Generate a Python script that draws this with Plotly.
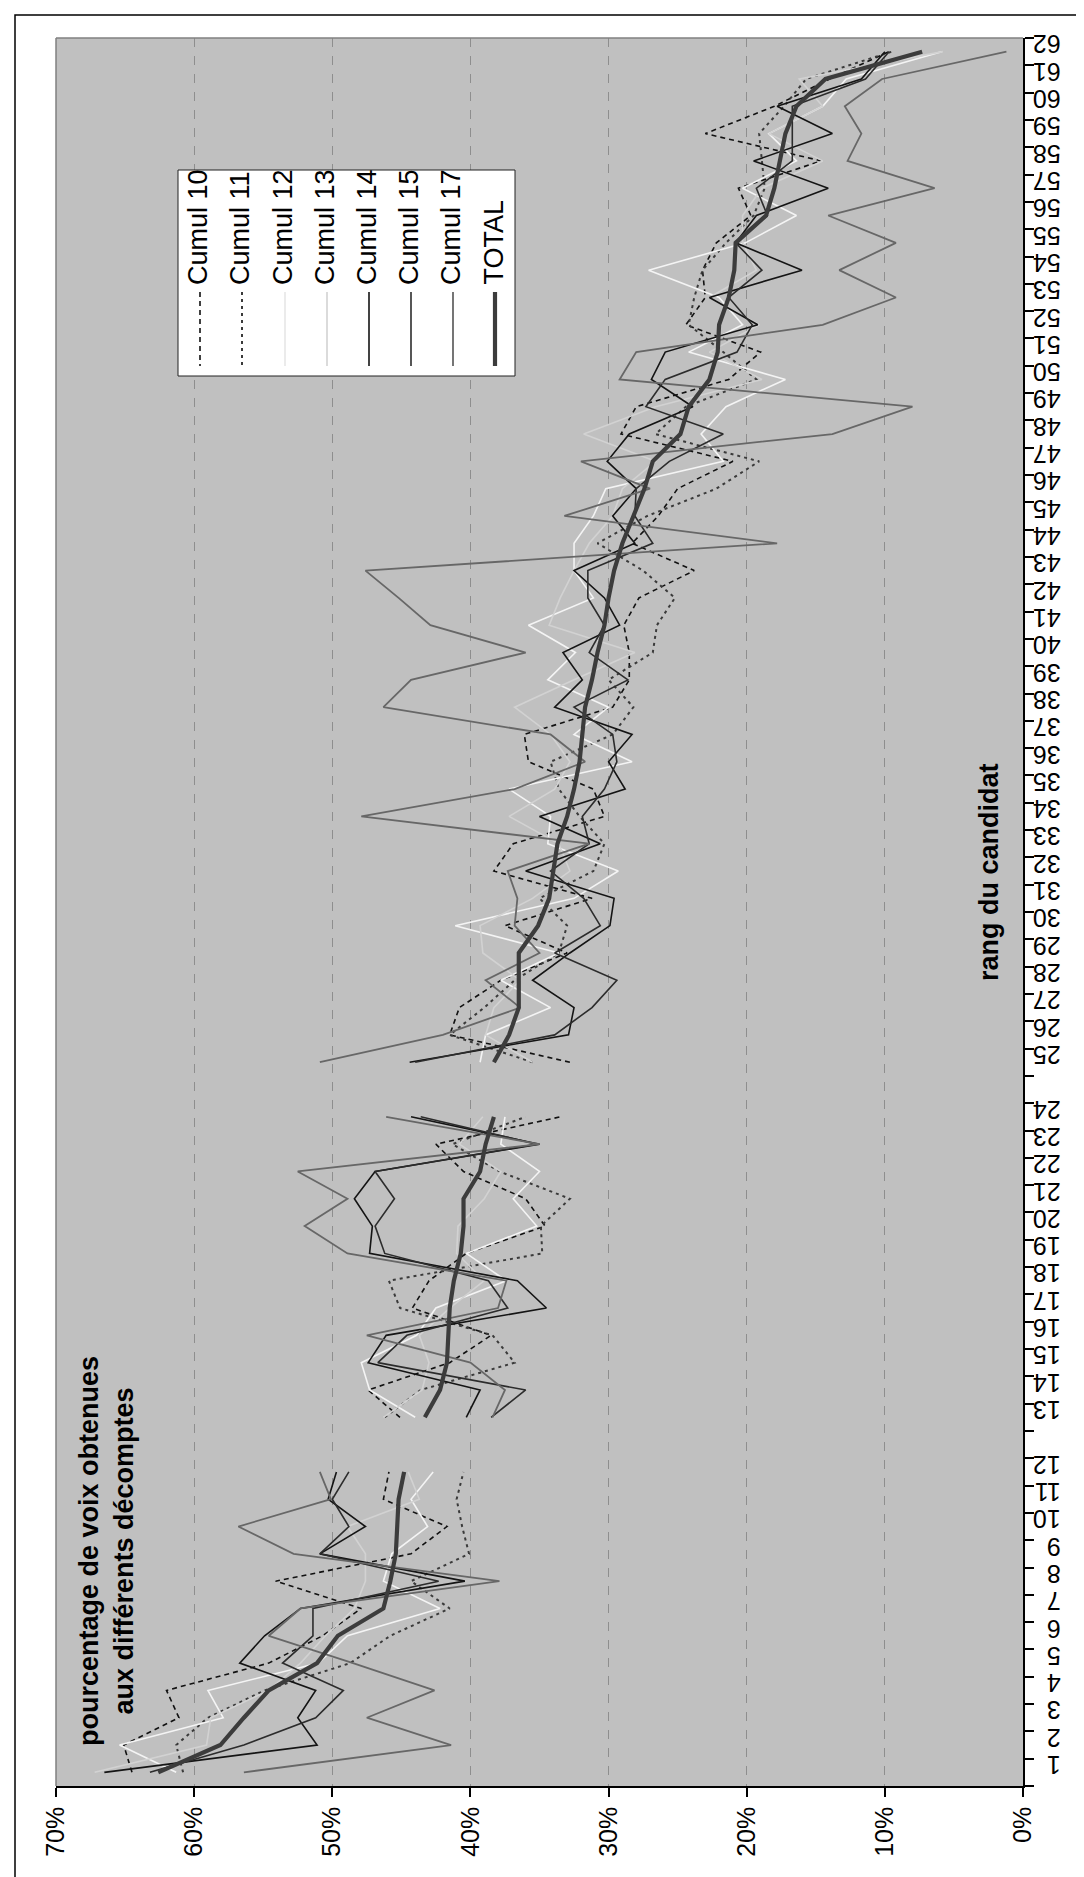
import plotly.graph_objects as go

# ---------------- data (percent of votes by candidate rank) ----------------
ranks = list(range(1, 63))
gap_after = [12, 24]  # blank category slots after these ranks

cumul10 = [64.5, 65.1, 61.1, 62.0, 54.6, 50.7, 47.9, 54.1, 44.3, 41.7, 46.3, 45.9,
           45.1, 47.4, 41.5, 38.5, 44.2, 43.0, 40.3, 34.6, 36.0, 40.5, 42.5, 33.5,
           32.8, 41.5, 40.8, 37.8, 33.0, 37.5, 31.2, 38.3, 36.9, 30.3, 31.1, 35.8, 36.1, 29.7,
           28.5, 28.5, 28.9, 27.8, 23.8, 28.3, 26.4, 25.0, 21.0, 29.1, 28.0, 21.3, 19.0, 24.4,
           23.0, 23.2, 22.2, 19.7, 20.6, 14.6, 23.0, 18.0, 14.0, 9.7]
cumul11 = [60.8, 61.3, 59.0, 54.9, 48.7, 45.8, 41.5, 44.3, 40.1, 40.6, 41.0, 40.5,
           46.2, 43.6, 36.8, 38.4, 45.1, 45.9, 34.8, 34.9, 32.8, 37.9, 41.3, 36.0,
           35.5, 41.5, 39.0, 36.8, 33.6, 33.0, 35.0, 31.1, 30.3, 32.1, 33.6, 34.2, 29.7, 28.2,
           30.0, 26.8, 26.5, 25.2, 27.5, 30.8, 27.2, 22.2, 19.1, 26.6, 24.4, 19.3, 21.7, 24.2,
           23.8, 23.2, 21.5, 19.5, 18.7, 18.9, 19.1, 17.3, 15.7, 9.5]
cumul12 = [61.3, 65.4, 57.9, 59.0, 51.0, 48.9, 42.2, 46.3, 45.7, 43.1, 44.3, 42.7,
           44.0, 47.3, 47.9, 43.9, 42.5, 37.4, 40.3, 35.2, 36.9, 35.0, 37.8, 37.5,
           39.3, 38.9, 34.2, 37.8, 33.6, 41.1, 32.5, 29.3, 34.4, 34.2, 37.2, 28.3, 32.5, 30.0,
           34.4, 32.4, 35.8, 31.1, 32.5, 32.5, 31.1, 30.2, 21.7, 23.3, 21.5, 17.2, 24.2, 20.3,
           22.0, 27.1, 20.1, 16.4, 20.3, 16.4, 18.4, 14.5, 12.8, 5.9]
cumul13 = [67.2, 59.1, 58.8, 54.6, 52.3, 50.5, 48.4, 47.6, 47.6, 48.9, 43.7, 44.5,
           46.3, 43.5, 43.0, 43.7, 41.5, 39.0, 41.0, 40.9, 39.0, 37.8, 40.8, 39.1,
           35.5, 38.9, 38.3, 36.4, 39.1, 39.3, 35.5, 32.8, 33.6, 37.2, 33.9, 32.8, 34.2, 36.8,
           32.5, 28.1, 34.3, 33.5, 32.5, 31.4, 29.7, 29.0, 26.6, 31.8, 26.6, 18.9, 22.7, 19.1,
           22.7, 19.3, 20.3, 20.3, 18.9, 14.5, 18.4, 14.5, 16.2, 5.8]
cumul14 = [66.5, 51.1, 52.5, 51.2, 56.7, 54.9, 52.3, 40.4, 50.9, 47.6, 50.3, 49.7,
           40.3, 39.3, 47.4, 46.1, 34.5, 36.6, 47.3, 47.1, 48.4, 46.9, 35.0, 44.3,
           44.4, 32.9, 32.5, 35.5, 32.8, 29.9, 29.6, 36.0, 30.6, 35.0, 28.8, 30.0, 28.3, 33.9,
           31.9, 33.3, 29.2, 30.3, 32.5, 28.1, 29.7, 28.0, 30.1, 28.5, 23.9, 26.9, 25.9, 19.2,
           22.7, 16.0, 20.8, 19.3, 14.1, 19.5, 13.8, 17.8, 11.7, 10.0]
cumul15 = [63.2, 56.4, 51.2, 49.2, 53.6, 51.4, 51.4, 42.3, 50.9, 48.8, 50.0, 48.8,
           38.5, 36.0, 46.7, 44.6, 37.3, 38.7, 46.2, 46.9, 45.5, 46.9, 35.2, 43.6,
           44.0, 33.9, 31.2, 29.4, 33.9, 30.6, 31.8, 34.2, 31.4, 31.9, 30.3, 29.4, 29.7, 32.5,
           28.6, 31.4, 30.3, 31.5, 31.5, 26.8, 28.1, 28.0, 25.6, 21.7, 27.3, 25.9, 20.7, 19.6,
           21.3, 18.9, 20.8, 18.5, 19.3, 16.7, 16.7, 16.7, 11.4, 9.7]
cumul17 = [56.4, 41.4, 47.5, 42.6, 48.5, 54.6, 52.3, 37.9, 52.8, 56.8, 50.1, 50.9,
           38.4, 37.5, 40.0, 47.5, 38.0, 37.4, 48.9, 52.0, 48.9, 52.5, 35.0, 46.1,
           50.9, 42.0, 36.4, 38.9, 35.0, 36.8, 36.6, 37.3, 31.4, 47.9, 36.8, 31.7, 34.2, 46.3,
           44.3, 36.0, 42.9, 45.2, 47.6, 17.8, 33.2, 27.0, 32.0, 13.8, 8.0, 29.2, 28.0, 14.5,
           9.2, 13.3, 9.2, 14.1, 6.4, 12.7, 11.7, 12.9, 10.2, 1.2]
total = [62.6, 58.1, 56.4, 54.6, 51.1, 49.6, 46.3, 45.8, 45.4, 45.3, 45.2, 44.8,
         43.3, 42.2, 41.7, 41.6, 41.5, 41.2, 40.7, 40.5, 40.5, 39.3, 38.9, 38.3,
         38.3, 37.2, 36.5, 36.5, 36.5, 35.1, 34.3, 34.0, 33.7, 33.0, 32.5, 32.1, 31.9, 31.7,
         31.2, 30.8, 30.3, 30.0, 29.6, 29.0, 28.2, 27.4, 26.8, 24.8, 24.2, 22.7, 22.1, 22.0,
         21.3, 20.9, 20.8, 18.6, 18.0, 17.6, 17.2, 16.4, 14.3, 7.3]

series_names = ["Cumul 10", "Cumul 11", "Cumul 12", "Cumul 13", "Cumul 14", "Cumul 15", "Cumul 17", "TOTAL"]
series_values = [cumul10, cumul11, cumul12, cumul13, cumul14, cumul15, cumul17, total]
x_ticks = [0, 10, 20, 30, 40, 50, 60, 70]
x_tick_labels = [f"{v}%" for v in x_ticks]

# ---------------- styles ----------------
styles = {
    "Cumul 10": dict(color="#111111", width=1.6, dash="5px,4px"),
    "Cumul 11": dict(color="#3a3a3a", width=2.0, dash="3px,4px"),
    "Cumul 12": dict(color="#f4f4f4", width=1.6, dash="solid"),
    "Cumul 13": dict(color="#d2d2d2", width=1.6, dash="solid"),
    "Cumul 14": dict(color="#141414", width=1.6, dash="solid"),
    "Cumul 15": dict(color="#2c2c2c", width=1.6, dash="solid"),
    "Cumul 17": dict(color="#676767", width=1.8, dash="solid"),
    "TOTAL": dict(color="#3c3c3c", width=4.2, dash="solid"),
}

# categories with blank slots
cats = []
cat_text = []
gap_names = [" ", "  "]
gi = 0
for r in ranks:
    cats.append(str(r))
    cat_text.append(str(r))
    if r in gap_after:
        cats.append(gap_names[gi])
        cat_text.append("")
        gi += 1


def with_gaps(vals):
    out = []
    for r, v in zip(ranks, vals):
        out.append(v)
        if r in gap_after:
            out.append(None)
    return out


FONT = "Liberation Sans, Arial, sans-serif"
fig = go.Figure()
for name, vals in zip(series_names, series_values):
    st = styles[name]
    fig.add_trace(go.Scatter(
        x=with_gaps(vals), y=cats, mode="lines", name=name, connectgaps=False,
        line=dict(color=st["color"], width=st["width"], dash=st["dash"]),
        hoverinfo="skip"))

# pixel geometry helpers
PL, PR, PT, PB = 48, 1015, 30, 1778
W, H = 1084, 1877


def px(x):
    return (x - PL) / (PR - PL)


def py(y):
    return (PB - y) / (PB - PT)


shapes = []
annotations = []
# outer frame
shapes.append(dict(type="rect", xref="paper", yref="paper", x0=px(7), x1=px(1078), y0=py(7), y1=py(1871),
                   line=dict(color="#000000", width=1.5), fillcolor="rgba(0,0,0,0)", layer="above"))
# plot area gray border (top and left)
shapes.append(dict(type="line", xref="paper", yref="paper", x0=0, x1=1, y0=1, y1=1,
                   line=dict(color="#808080", width=1.5), layer="above"))
shapes.append(dict(type="line", xref="paper", yref="paper", x0=0, x1=0, y0=0, y1=1,
                   line=dict(color="#808080", width=1.5), layer="above"))

# legend box
shapes.append(dict(type="rect", xref="paper", yref="paper", x0=px(170), x1=px(507), y0=py(162), y1=py(368),
                   line=dict(color="#222222", width=1), fillcolor="#ffffff", layer="above"))
leg_x = [192, 234, 277, 319, 361, 403, 445, 487]
for name, lx in zip(series_names, leg_x):
    st = styles[name]
    lc = st["color"]
    if name == "Cumul 12":
        lc = "#e6e6e6"
    shapes.append(dict(type="line", xref="paper", yref="paper", x0=px(lx), x1=px(lx), y0=py(284), y1=py(358),
                       line=dict(color=lc, width=st["width"], dash=st["dash"]), layer="above"))
    annotations.append(dict(xref="paper", yref="paper", x=px(lx - 2), y=py(279), text=name, showarrow=False,
                            textangle=-90, xanchor="center", yanchor="bottom",
                            font=dict(family=FONT, size=27, color="#000000")))

# axis titles (rotated)
annotations.append(dict(xref="paper", yref="paper", x=px(98), y=py(1543),
                        text="pourcentage de voix obtenues<br>aux différents décomptes",
                        showarrow=False, textangle=-90, xanchor="center", yanchor="middle", align="center",
                        font=dict(family=FONT, size=27, color="#000000", weight="bold")))
annotations.append(dict(xref="paper", yref="paper", x=px(981), y=py(864), text="rang du candidat",
                        showarrow=False, textangle=-90, xanchor="center", yanchor="middle",
                        font=dict(family=FONT, size=27, color="#000000", weight="bold")))

fig.update_layout(
    template="none",
    width=W, height=H, autosize=False,
    margin=dict(l=PL, r=W - PR, t=PT, b=H - PB, pad=0),
    paper_bgcolor="#ffffff", plot_bgcolor="#c0c0c0",
    showlegend=False,
    font=dict(family=FONT, color="#000000"),
    shapes=shapes, annotations=annotations,
    xaxis=dict(range=[70, 0], tickmode="array", tickvals=x_ticks, ticktext=x_tick_labels, tickangle=-90,
               ticks="outside", ticklen=9, tickwidth=1.5, tickcolor="#000000",
               showline=True, linecolor="#000000", linewidth=1.5, mirror=False,
               showgrid=True, gridcolor="#8e8e8e", griddash="dash", gridwidth=1,
               zeroline=False, automargin=False,
               tickfont=dict(family=FONT, size=25, color="#000000")),
    yaxis=dict(type="category", categoryorder="array", categoryarray=cats,
               tickmode="array", tickvals=cats, ticktext=cat_text,
               range=[-0.5, len(cats) - 0.5], side="right", tickson="boundaries",
               tickangle=180, ticks="outside", ticklen=9, tickwidth=1.5, tickcolor="#000000",
               ticklabelstandoff=31,
               showline=True, linecolor="#000000", linewidth=1.5, showgrid=False,
               zeroline=False, automargin=False,
               tickfont=dict(family=FONT, size=25, color="#000000")),
)

fig.write_html("out.html")
